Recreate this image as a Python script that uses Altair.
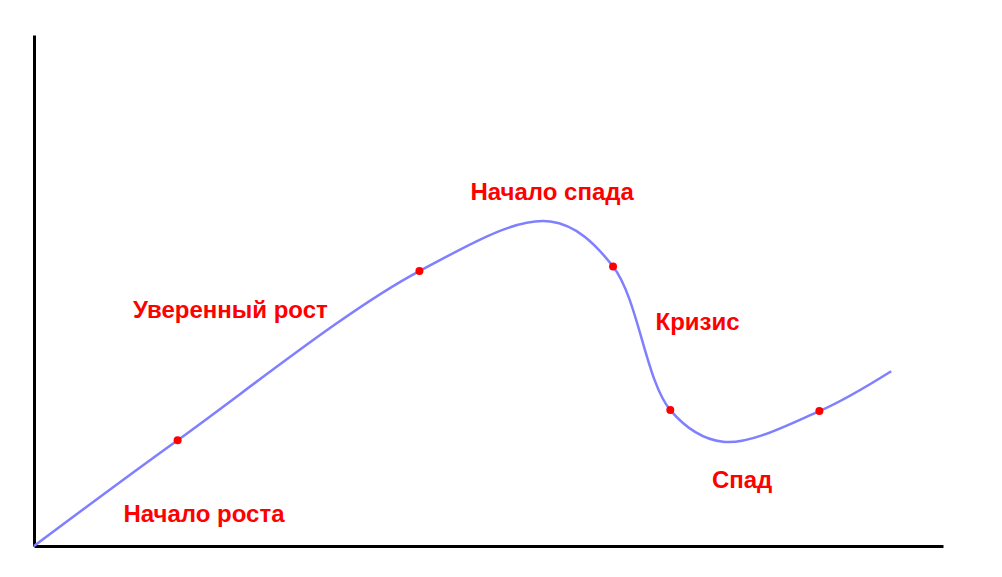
import altair as alt
import pandas as pd

# Curve (business cycle), arbitrary units 0..100
curve_x = [0, 15.8, 42.4, 56.8, 63.7, 70.0, 75.8, 86.4, 94.3]
curve_y = [0, 20.7, 53.8, 63.5, 54.7, 26.6, 20.4, 26.4, 34.2]

# Marked phase points
dot_x = [15.8, 42.4, 63.7, 70.0, 86.4]
dot_y = [20.7, 53.8, 54.7, 26.6, 26.4]

# Labels
labels = ["Начало роста", "Уверенный рост", "Начало спада", "Кризис", "Спад"]
label_x = [18.7, 21.6, 57.0, 73.0, 77.9]
label_y = [4.7, 44.6, 67.8, 42.3, 11.3]

curve_df = pd.DataFrame({"x": curve_x, "y": curve_y, "order": list(range(len(curve_x)))})
dot_df = pd.DataFrame({"x": dot_x, "y": dot_y})
label_df = pd.DataFrame({"x": label_x, "y": label_y, "label": labels})

xs = alt.Scale(domain=[0, 100], nice=False, zero=False)
ys = alt.Scale(domain=[0, 100], nice=False, zero=False)
ax = alt.Axis(title=None, labels=False, ticks=False, grid=False, domain=True,
              domainColor="black", domainWidth=3)

line = alt.Chart(curve_df).mark_line(
    interpolate="catmull-rom", color="#7f7fff", strokeWidth=2.5
).encode(
    x=alt.X("x:Q", scale=xs, axis=ax),
    y=alt.Y("y:Q", scale=ys, axis=ax),
    order="order:Q",
)

dots = alt.Chart(dot_df).mark_circle(color="#ff0000", size=64, opacity=1).encode(
    x=alt.X("x:Q", scale=xs),
    y=alt.Y("y:Q", scale=ys),
)

text = alt.Chart(label_df).mark_text(
    color="#ff0000", font="Liberation Sans", fontWeight="bold", fontSize=24,
    align="center", baseline="alphabetic"
).encode(
    x=alt.X("x:Q", scale=xs),
    y=alt.Y("y:Q", scale=ys),
    text="label:N",
)

chart = alt.layer(line, dots, text).properties(
    width=909, height=511,
    autosize=alt.AutoSizeParams(type="none"),
    padding={"left": 26, "top": 27, "right": 10, "bottom": 10},
    background="white",
).configure_view(stroke=None)

chart.save("out.html", embed_options={"renderer": "svg", "actions": False})
